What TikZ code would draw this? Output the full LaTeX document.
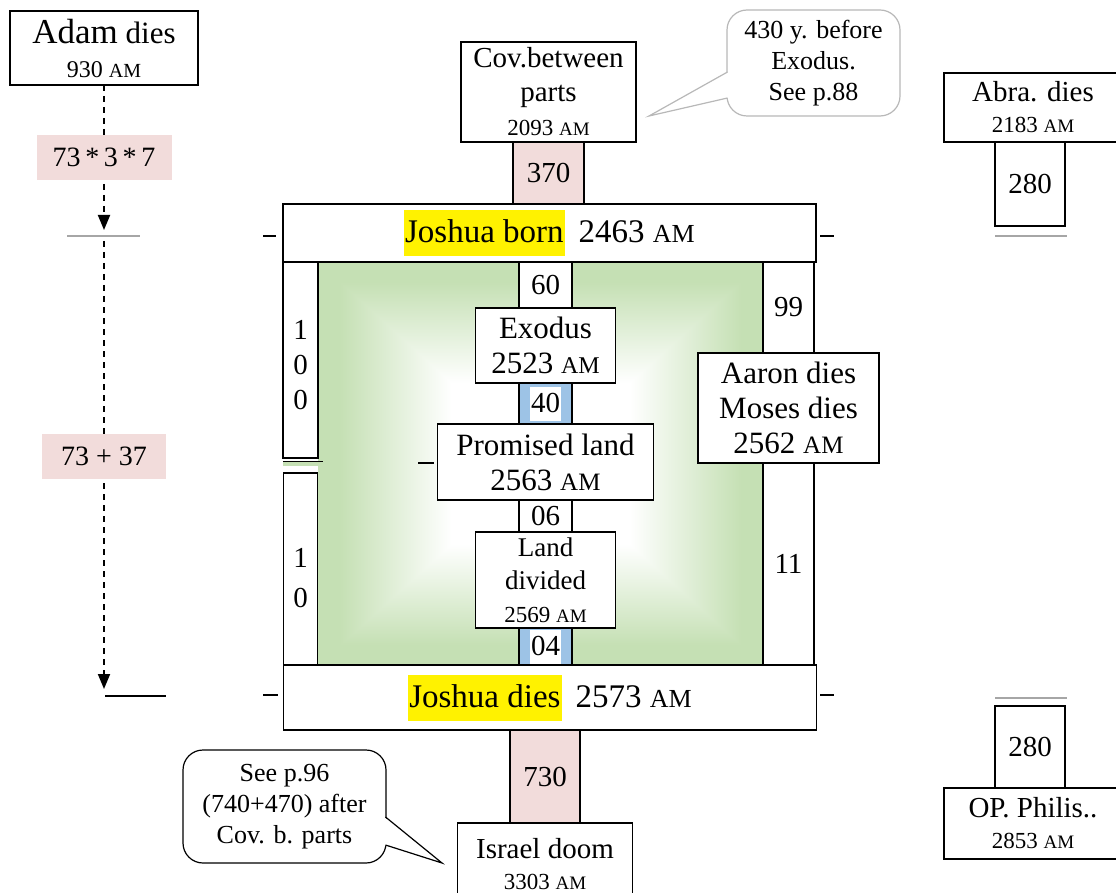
\documentclass[tikz,border=0pt]{standalone}
\usepackage{fontspec}
\setmainfont{Liberation Serif}
\usetikzlibrary{arrows.meta, positioning}
\definecolor{rose}{RGB}{242,220,219}
\definecolor{bleu}{RGB}{157,195,230}
\definecolor{vert}{RGB}{197,224,180}
\definecolor{gris}{RGB}{166,166,166}
% degrade rectangulaire blanc -> vert
\pgfdeclarefunctionalshading{halo}{\pgfpoint{-50bp}{-50bp}}{\pgfpoint{50bp}{50bp}}{}{
	abs exch abs 2 copy lt {exch} if pop
	25 div 0.4 sub 0.5 div
	dup 0 lt {pop 0} if dup 1 gt {pop 1} if
	dup dup
	-0.294 mul 1 add exch
	-0.122 mul 1 add exch
	3 -1 roll -0.227 mul 1 add 3 1 roll
}
\newcommand{\am}[1]{{\fontsize{#1}{#1}\selectfont AM}}
\newcommand{\annee}[1]{{\fontsize{23}{27}\selectfont #1~\am{19}}}
\newcommand{\surligne}[1]{{\setlength{\fboxsep}{0pt}\colorbox{yellow}{\rule[-13pt]{0pt}{46pt}\kern1pt#1\kern1pt}}}
\newcommand{\blanc}[1]{{\setlength{\fboxsep}{0pt}\colorbox{white}{\rule[-8pt]{0pt}{34pt}\kern1pt#1\kern1pt}}}

\begin{document}
\begin{tikzpicture}[x=1pt, y=-1pt, line width=1.2pt,
	boite/.style={draw, fill=white, align=center, inner sep=0pt, outer sep=0pt, font=\fontsize{31}{35}\selectfont},
	nombre/.style={boite, font=\fontsize{29}{35}\selectfont},
	barre/.style={boite, minimum width=533pt, font=\fontsize{33}{38}\selectfont},
	calcul/.style={fill=rose, inner sep=0pt, minimum height=45pt, font=\fontsize{28}{34}\selectfont},
	bulle/.style={fill=white, rounded corners=20pt, align=center, inner sep=0pt, font=\fontsize{26}{31}\selectfont},
	fleche/.style={line width=1.8pt, dash pattern=on 6pt off 5pt, -{Triangle[length=15pt,width=12pt]}},
	trait/.style={line width=2pt}]
	\useasboundingbox (0,0) rectangle (1116,893);
	% fond vert
	\shade[shading=halo] (318,262) rectangle (763,665);
	% barres Joshua
	\node[barre, minimum height=58pt] (naissance) at (549.5,233) {\surligne{Joshua born}\hspace{14pt}2463 \am{26}};
	\node[nombre, fill=rose, minimum width=71pt, minimum height=62pt, above=0pt of naissance, xshift=-1pt] (n370) {370};
	\node[boite, minimum width=175pt, minimum height=100pt, font=\fontsize{29}{34}\selectfont, above=0pt of n370] (alliance) {Cov.between\\parts\\\annee{2093}};
	% colonne centrale
	\node[nombre, minimum width=53pt, minimum height=46pt, below=0pt of naissance, xshift=-4pt] (n60) {60};
	\node[boite, minimum width=140pt, minimum height=75pt, below=0pt of n60] (exode) {Exodus\\2523 \am{24}};
	\node[nombre, fill=bleu, minimum width=53pt, minimum height=41pt, below=0pt of exode] (n40) {\blanc{40}};
	\node[boite, minimum width=216pt, minimum height=76pt, below=0pt of n40] (terre) {Promised land\\2563 \am{25}};
	\node[nombre, minimum width=53pt, minimum height=32pt, below=0pt of terre] (n06) {06};
	\node[boite, minimum width=140pt, minimum height=96pt, font=\fontsize{27}{33}\selectfont, below=0pt of n06] (partage) {Land\\divided\\\annee{2569}};
	\node[nombre, fill=bleu, minimum width=53pt, minimum height=37pt, below=0pt of partage] (n04) {\blanc{04}};
	\node[barre, minimum height=65pt, below=0pt of n04, xshift=4.5pt] (deces) {\surligne{Joshua dies}\hspace{14pt}2573 \am{26}};
	\node[nombre, fill=rose, minimum width=70pt, minimum height=93pt, below=0pt of deces, xshift=-5pt] (n730) {730};
	\node[boite, minimum width=175pt, minimum height=82pt, font=\fontsize{29}{31}\selectfont, below=0pt of n730] (israel) {Israel doom\\\annee{3303}};
	% colonnes laterales
	\node[nombre, minimum width=35pt, minimum height=196pt, anchor=north west] (n100) at (naissance.south west) {\rule{0pt}{30pt}1\\0\\0};
	\node[nombre, minimum width=34pt, minimum height=192pt, anchor=south west, font=\fontsize{29}{40}\selectfont] (n10) at (deces.north west) {\rule{0pt}{38pt}1\\0};
	\node[nombre, minimum width=51pt, minimum height=91pt, anchor=north east] (n99) at ([xshift=-2pt]naissance.south east) {99};
	\node[boite, minimum width=181pt, minimum height=110pt, below=0pt of n99] (aaron) {Aaron dies\\Moses dies\\2562 \am{25}};
	\node[nombre, minimum width=51pt, minimum height=202pt, below=0pt of aaron] (n11) {11};
	\draw[line width=0.8pt, double=vert, double distance=4pt] (283,463.5) -- (323,463.5);
	% petits traits
	\foreach \xa/\xb/\yy in {263/276/236, 820/834/236, 263/278/695, 820/834/695, 418/434/463}
	\draw (\xa,\yy) -- (\xb,\yy);
	% Adam
	\node[boite, minimum width=188pt, minimum height=74pt, font=\fontsize{31}{34}\selectfont] (adam) at (104,48) {{\fontsize{35}{34}\selectfont Adam} dies\\{\fontsize{24}{27}\selectfont 930~\am{20}}};
	\coordinate (fin1) at (104,230);
	\coordinate (debut2) at (104,241);
	\coordinate (fin2) at (104,689);
	\draw[fleche] (adam) -- node[calcul, minimum width=135pt] (k1) {73\,*\,3\,*\,7} (fin1);
	\draw[fleche] (debut2) -- node[calcul, minimum width=124pt, pos=0.48] (k2) {73 + 37} (fin2);
	\draw[gris, trait] (67,236) -- (140,236);
	\draw[trait] (105,696) -- (166,696);
	% Abraham et Philistins
	\node[boite, minimum width=178pt, minimum height=69pt, font=\fontsize{29}{31}\selectfont] (abraham) at (1033,107.5) {Abra. dies\\\annee{2183}};
	\node[nombre, minimum width=70pt, minimum height=84pt, below=0pt of abraham, xshift=-3pt] (n280a) {280};
	\draw[gris, trait] (995,236) -- (1067,236);
	\node[boite, minimum width=178pt, minimum height=71pt, font=\fontsize{29}{31}\selectfont] (philis) at (1033,823.5) {OP. Philis..\\\annee{2853}};
	\node[nombre, minimum width=70pt, minimum height=82pt, above=0pt of philis, xshift=-3pt] (n280b) {280};
	\draw[gris, trait] (995,698) -- (1067,698);
	% bulles
	\node[bulle, draw=gris!80, minimum width=173pt, minimum height=106pt] (note1) at (813.5,63) {430 y. before\\Exodus.\\See p.88};
	\fill[white] (728,72) -- (649,116) -- (728,98) -- cycle;
	\draw[gris!80] (727.5,72) -- (649,116) -- (727.5,98);
	\node[bulle, draw, minimum width=203pt, minimum height=113pt] (note2) at (284.5,806.5) {See p.96\\(740+470) after\\Cov. b. parts};
	\fill[white] (384,817) -- (442,863) -- (384,845) -- cycle;
	\draw (385.5,817) -- (442,863) -- (385.5,845);
\end{tikzpicture}
\end{document}
